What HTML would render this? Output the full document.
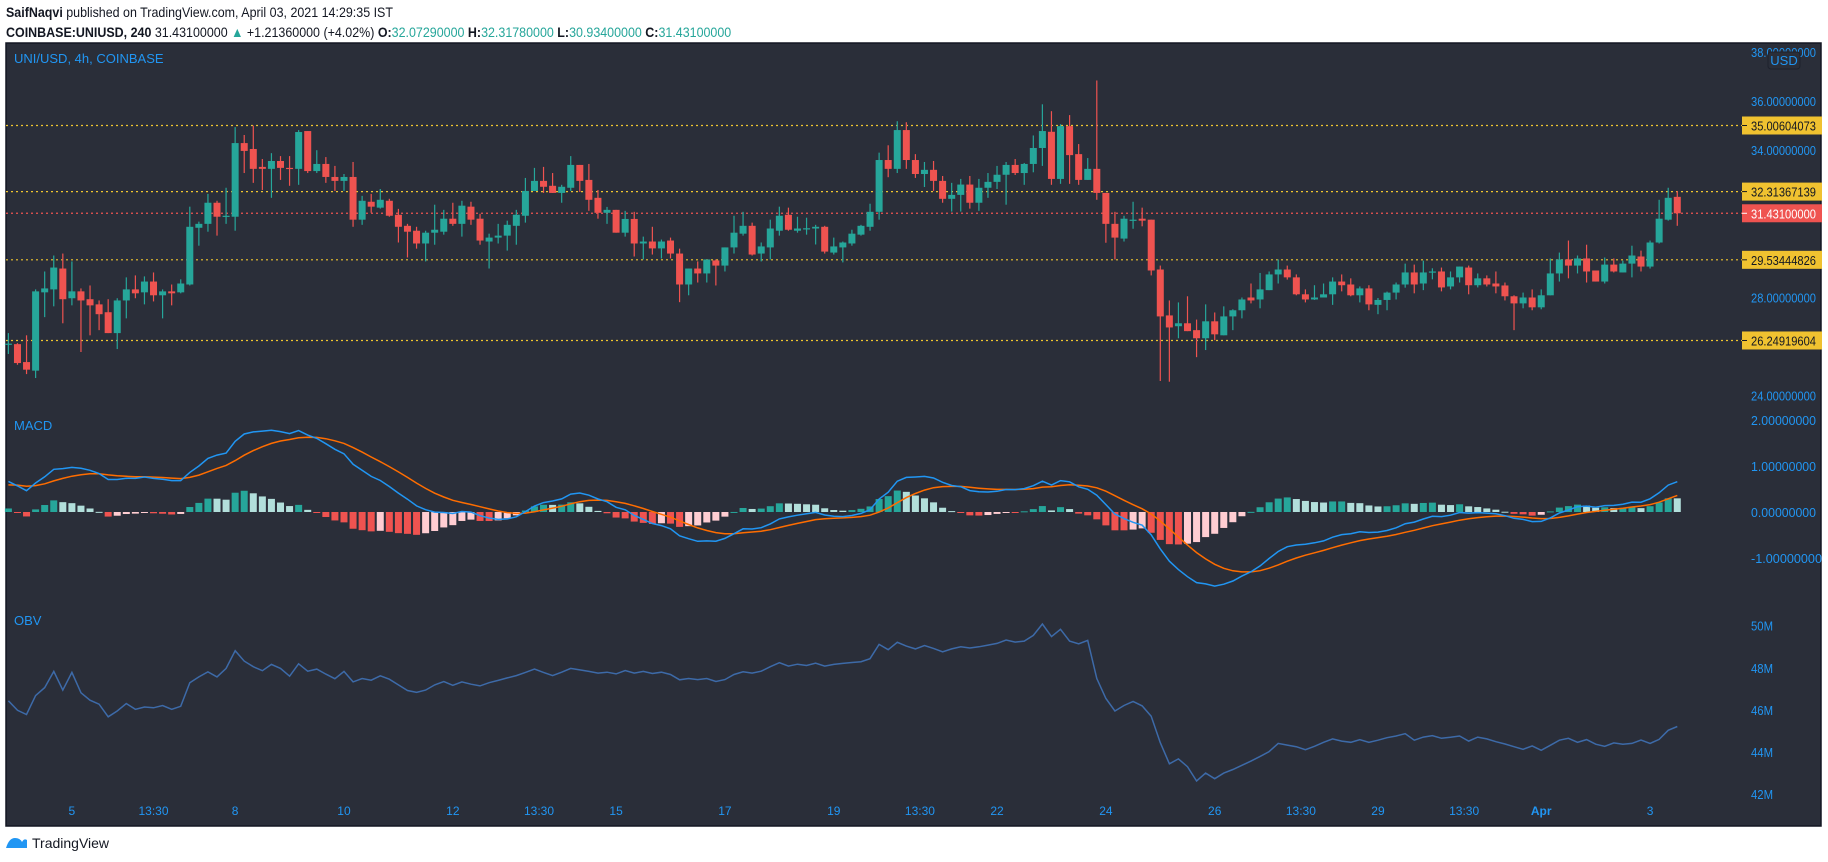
<!DOCTYPE html>
<html><head><meta charset="utf-8"><style>
html,body{margin:0;padding:0;background:#fff;width:1828px;height:862px;overflow:hidden;font-family:"Liberation Sans",sans-serif}
.hdr{position:absolute;left:6px;font-size:14px;color:#131722;white-space:nowrap;transform:scaleX(0.89);transform-origin:left top}
.hdr b{font-weight:bold}.tl{color:#26a69a}
#chart{position:absolute;left:0;top:0}
</style></head><body>
<div class="hdr" style="top:4px"><b>SaifNaqvi</b> published on TradingView.com, April 03, 2021 14:29:35 IST</div>
<div class="hdr" style="top:24px"><b>COINBASE:UNIUSD, 240</b> 31.43100000 <span class="tl">▲</span> +1.21360000 (+4.02%) <b>O:</b><span class="tl">32.07290000</span> <b>H:</b><span class="tl">32.31780000</span> <b>L:</b><span class="tl">30.93400000</span> <b>C:</b><span class="tl">31.43100000</span></div>
<svg id="chart" width="1828" height="862" xmlns="http://www.w3.org/2000/svg"></svg>
<script>
const opens=[26.10,26.10,25.37,25.02,28.21,28.33,29.18,27.97,28.25,27.93,27.72,27.4,26.55,27.88,28.33,28.21,28.65,28.09,28.25,28.21,28.53,30.84,31.0,31.86,31.29,31.29,34.29,34.05,33.32,33.24,33.56,33.28,33.24,34.78,33.15,33.44,32.91,32.75,32.91,31.17,31.9,31.66,31.94,31.37,30.92,30.72,30.2,30.64,30.68,31.21,31.0,31.7,31.21,30.28,30.44,30.52,30.92,31.33,32.34,32.75,32.55,32.26,32.47,33.4,32.79,32.06,
31.45,31.57,30.64,31.2,30.2,30.28,30.0,30.32,29.79,28.53,29.18,28.98,29.51,29.3,30.04,30.6,30.92,29.79,30.04,30.72,31.37,30.72,30.8,30.81,30.88,29.83,30.04,30.2,30.56,30.88,31.49,33.6,33.24,34.82,33.6,33.03,33.2,32.75,32.02,32.18,32.6,31.86,32.47,32.71,33.0,
33.4,33.07,33.44,34.09,34.75,32.83,34.98,33.84,32.79,33.24,32.26,31.0,30.4,31.13,31.21,31.17,29.14,27.27,26.83,26.95,26.67,26.34,27.03,26.46,27.23,27.48,28.0,27.92,28.3,28.94,29.14,28.82,28.13,27.92,28.0,28.13,28.65,28.53,28.09,28.37,27.7,27.9,28.2,28.53,29.02,
28.57,29.02,29.06,28.45,28.82,29.22,28.5,28.78,28.57,28.49,28.05,27.76,28.0,27.6,28.09,28.98,29.55,29.3,29.59,29.1,28.65,29.34,29.02,29.38,29.67,29.26,30.24,31.17,32.1];
const highs=[26.55,26.14,26.46,28.33,29.06,29.71,29.79,29.47,28.37,28.49,27.88,27.93,27.97,28.82,28.9,28.86,29.02,28.33,28.53,28.74,31.7,31.09,32.22,31.94,32.47,34.94,34.62,35.0,33.64,33.88,33.76,33.76,34.82,34.78,34.0,33.72,33.36,33.03,33.52,32.14,32.22,32.42,32.02,31.61,31.0,30.88,30.72,31.78,31.57,31.86,31.94,31.9,31.41,30.6,31.0,31.13,31.57,32.87,33.28,33.32,33.07,32.59,33.76,33.4,33.44,32.38,
31.69,31.57,31.53,31.49,30.48,30.88,30.36,30.44,29.99,29.18,29.47,29.55,29.55,30.04,31.33,31.49,31.05,30.24,31.17,31.7,31.66,31.29,31.25,30.96,30.92,30.44,30.28,30.76,30.96,31.82,33.9,34.2,35.18,35.14,33.84,33.52,33.56,32.95,32.67,32.83,32.95,32.83,33.07,33.36,33.52,
33.64,33.48,34.6,35.87,35.59,35.06,35.43,34.25,33.68,36.84,32.26,31.49,31.33,31.9,31.66,31.17,29.3,27.88,27.8,28.05,27.1,27.72,27.39,27.64,27.52,28.0,28.57,29.0,29.06,29.55,29.3,28.94,28.33,28.5,28.57,28.82,28.94,28.78,28.45,28.5,27.98,28.24,28.61,29.38,29.34,
29.5,29.19,29.22,29.06,29.26,29.3,28.98,28.9,29.06,28.61,28.09,28.2,28.33,28.33,29.59,29.83,30.32,29.71,30.15,29.1,29.63,29.59,29.5,30.11,29.91,30.32,31.98,32.47,32.34];
const lows=[25.70,25.26,24.88,24.72,27.2,27.64,26.95,27.68,25.78,26.46,26.67,26.55,25.9,27.15,27.97,27.72,27.84,27.15,27.68,28.17,28.49,30.11,30.68,30.52,31.0,30.72,33.07,32.67,32.38,32.06,32.79,32.55,32.59,33.07,33.07,32.67,32.34,32.34,30.88,30.96,31.45,31.62,31.29,30.24,29.63,29.99,29.47,30.15,30.56,30.92,30.48,30.96,30.15,29.18,30.2,29.91,30.15,31.05,32.34,32.26,32.26,31.86,32.34,32.3,31.53,31.21,
31.0,30.64,30.48,29.67,29.55,29.75,29.59,29.59,27.81,28.09,28.61,28.61,28.49,29.06,29.79,30.52,29.71,29.47,29.55,30.52,30.72,30.64,30.56,30.16,29.79,29.75,29.43,30.11,30.52,30.72,31.17,32.9,33.07,33.24,32.87,32.5,32.34,31.86,31.5,31.5,31.62,31.53,32.06,32.42,31.78,
32.99,32.59,33.1,33.36,32.59,32.63,32.63,32.59,32.79,31.98,30.23,29.55,30.28,30.8,30.9,28.9,24.6,24.57,26.34,26.63,25.57,25.86,26.26,26.46,26.67,27.15,27.76,27.56,28.3,28.57,28.73,28.09,27.8,27.9,28.0,27.7,28.25,28.05,27.8,27.48,27.32,27.48,27.92,28.4,28.17,
28.3,28.74,28.25,28.33,28.61,28.13,28.41,28.45,28.17,27.88,26.67,27.56,27.48,27.52,28.09,28.65,28.78,28.98,28.61,28.65,28.57,29.02,29.02,28.82,29.06,29.18,30.2,31.13,30.92];
const closes=[26.12,25.33,25.06,28.25,28.37,29.22,27.93,28.25,27.88,27.68,27.32,26.55,27.88,28.33,28.17,28.65,28.09,28.25,28.17,28.57,30.88,31.0,31.86,31.29,31.33,34.29,33.97,33.24,33.24,33.56,33.28,33.25,34.74,33.15,33.44,32.91,32.75,32.91,31.17,31.94,31.7,31.98,31.33,30.88,30.68,30.2,30.64,30.76,31.21,31.0,31.74,31.17,30.32,30.44,30.52,30.96,31.37,32.34,32.75,32.51,32.26,32.51,33.4,32.75,31.98,31.45,
31.57,30.64,31.2,30.2,30.28,30.0,30.28,29.79,28.53,29.18,28.98,29.55,29.3,30.04,30.64,30.92,29.75,30.08,30.81,31.33,30.76,30.81,30.82,30.88,29.87,30.08,30.24,30.6,30.92,31.49,33.6,33.24,34.82,33.6,33.03,33.2,32.75,32.02,32.18,32.6,31.86,32.47,32.71,33.0,33.4,
33.07,33.44,34.09,34.78,32.83,34.98,33.8,32.79,33.24,32.26,31.0,30.44,31.21,31.17,31.13,29.1,27.23,26.78,26.95,26.63,26.34,27.03,26.5,27.23,27.48,27.92,27.88,28.33,28.94,29.14,28.82,28.13,27.92,28.0,28.13,28.65,28.5,28.09,28.37,27.72,27.9,28.2,28.53,29.02,28.53,
29.02,29.06,28.41,28.82,29.26,28.5,28.78,28.53,28.45,28.05,27.76,28.0,27.6,28.09,28.98,29.55,29.3,29.59,29.06,28.65,29.34,29.06,29.38,29.71,29.26,30.24,31.21,32.06,31.43];
const obv=[46.43,45.98,45.78,46.68,47.06,47.83,46.94,47.78,46.81,46.46,46.27,45.67,45.95,46.30,46.03,46.14,46.10,46.21,46.03,46.17,47.29,47.57,47.81,47.57,47.97,48.81,48.32,48.05,47.86,48.16,47.97,47.60,48.19,47.84,47.94,47.70,47.48,47.83,47.33,47.49,47.41,47.62,47.46,47.19,46.92,46.83,46.94,47.19,47.35,47.17,47.33,47.22,47.14,47.29,47.40,47.52,47.63,47.78,47.94,47.78,47.63,47.79,47.97,47.90,47.83,47.75,47.79,47.71,47.87,47.75,47.83,47.73,47.79,47.68,47.43,47.49,47.44,47.49,47.35,47.44,47.68,47.81,47.75,47.84,48.05,48.24,48.08,48.17,48.11,48.22,48.08,48.16,48.21,48.25,48.29,48.43,49.11,48.86,49.21,
49.03,48.90,49.06,48.92,48.76,48.90,49.0,48.94,49.0,49.08,49.16,49.32,49.22,49.27,49.54,50.08,49.48,49.83,49.27,49.14,49.30,47.49,46.54,45.95,46.21,46.40,46.19,45.70,44.44,43.44,43.67,43.30,42.62,43.0,42.73,43.0,43.17,43.37,43.57,43.79,44.02,44.41,44.33,44.25,44.11,44.27,44.46,44.62,44.52,44.46,44.59,44.46,44.56,44.68,44.76,44.87,44.56,44.71,44.78,44.65,44.70,44.76,44.52,44.71,44.62,44.49,44.38,44.25,44.13,44.29,44.08,44.32,44.56,44.65,44.46,44.59,44.37,44.27,44.43,44.37,44.41,44.57,44.41,44.60,45.03,45.21];
const levelPrices=[35.00604073,32.31367139,29.53444826,26.24919604];
const levelLabels=["35.00604073","32.31367139","29.53444826","26.24919604"];
const lastPrice=31.431;
const lastLabel="31.43100000";
const priceTicks=[38,36,34,28,24];
const priceTickLabels=["38.00000000","36.00000000","34.00000000","28.00000000","24.00000000"];
const macdTicks=[2,1,0,-1];
const macdTickLabels=["2.00000000","1.00000000","0.00000000","-1.00000000"];
const obvTicks=[50,48,46,44,42];
const obvTickLabels=["50M","48M","46M","44M","42M"];
const dateIdx=[7,16,25,37,49,58.5,67,79,91,100.5,109,121,133,142.5,151,160.5,169,181];
const dateLabels=["5","13:30","8","10","12","13:30","15","17","19","13:30","22","24","26","13:30","29","13:30","Apr","3"];
const macdSeed=[25.9,25.2,0.57];

const svg=document.getElementById('chart');
const NS='http://www.w3.org/2000/svg';
function mk(t,a,parent){const e=document.createElementNS(NS,t);for(const k in a)e.setAttribute(k,a[k]);(parent||svg).appendChild(e);return e;}
const PL=6,PR=1742,TOP=43,BOT=826;
const xs=i=>8.4+9.07*i;
const yP=p=>52+(38-p)*24.55;
const yM=m=>512-m*46;
const yO=v=>625.7+(50-v)*21.05;

let r=mk('rect',{x:6,y:43,width:1815,height:783,fill:'#2a2e39',stroke:'#131722','stroke-width':1.5});



const AX='#2196f3';
function axisText(x,y,s,name,anchor,len){const t=mk('text',{x:x,y:y,fill:AX,'font-size':13,'text-anchor':anchor||'start'});if(len){t.setAttribute('textLength',len);t.setAttribute('lengthAdjust','spacingAndGlyphs');}t.textContent=s;return t;}
priceTicks.forEach((p,i)=>axisText(1751,yP(p)+5,priceTickLabels[i],'price-tick-label','start',65));
macdTicks.forEach((m,i)=>axisText(1751,yM(m)+5,macdTickLabels[i],'macd-tick-label','start',m<0?71:65));
obvTicks.forEach((v,i)=>axisText(1751,yO(v)+5,obvTickLabels[i],'obv-tick-label','start',22));
dateIdx.forEach((d,i)=>{const t=axisText(xs(d),815,dateLabels[i],'date-tick-label','middle');t.setAttribute('font-size',12);if(dateLabels[i]==='Apr')t.setAttribute('font-weight','bold');});

const usd=mk('rect',{x:1768,y:52,width:32,height:17,rx:3,fill:'#2a2e39',stroke:'#1e222d'});


axisText(1784,65,'USD','currency-label','middle');

const lbl=mk('text',{x:14,y:63,fill:AX,'font-size':13});lbl.textContent='UNI/USD, 4h, COINBASE';


const ml=mk('text',{x:14,y:430,fill:AX,'font-size':13});ml.textContent='MACD';


const ol=mk('text',{x:14,y:625,fill:AX,'font-size':13});ol.textContent='OBV';



// level lines
levelPrices.forEach((p,i)=>{const y=yP(p);
 const l=mk('line',{x1:PL,x2:PR,y1:y,y2:y,stroke:'#f0c52f','stroke-width':1.2,'stroke-dasharray':'2 3'});
 
 
});
const pl=mk('line',{x1:PL,x2:PR,y1:yP(lastPrice),y2:yP(lastPrice),stroke:'#ef5350','stroke-width':1.2,'stroke-dasharray':'2 3'});



// candles
const UP='#26a69a',DN='#ef5350';
closes.forEach((c,i)=>{const o=opens[i],x=xs(i),col=c>=o?UP:DN;
 const g=mk('g',{});
 
 
 mk('line',{x1:x,x2:x,y1:yP(highs[i]),y2:yP(lows[i]),stroke:col,'stroke-width':1.2},g);
 const yt=yP(Math.max(o,c)),yb=yP(Math.min(o,c));
 mk('rect',{x:x-3.5,y:yt,width:7,height:Math.max(1.2,yb-yt),fill:col},g);
});

// level labels
function box(y,txt,bg,fg,name){const g=mk('g',{});
 
 
 mk('rect',{x:1742,y:y-9,width:80,height:18,fill:bg},g);
 mk('line',{x1:1742,x2:1747,y1:y,y2:y,stroke:fg,'stroke-width':1},g);
 const t=mk('text',{x:1751,y:y+5,fill:fg,'font-size':13,textLength:65,lengthAdjust:'spacingAndGlyphs'},g);t.textContent=txt;}
levelPrices.forEach((p,i)=>box(yP(p),levelLabels[i],'#f0c230','#131722','level-price-label'));
box(yP(lastPrice),lastLabel,'#ef5350','#ffffff','last-price-label');

// MACD computed from closes
const a12=2/13,a26=2/27,a9=2/10;let e12=macdSeed[0],e26=macdSeed[1],sg=macdSeed[2];
const macd=[],sig=[],hist=[];
closes.forEach(c=>{e12=e12+a12*(c-e12);e26=e26+a26*(c-e26);const m=e12-e26;sg=sg+a9*(m-sg);macd.push(m);sig.push(sg);hist.push(m-sg);});
hist.forEach((h,i)=>{const prev=i>0?hist[i-1]:h;let col;
 if(h>=0)col=h>=prev?'#26a69a':'#b2dfdb';else col=h<prev?'#ef5350':'#ffcdd2';
 const y0=yM(0),y1=yM(h);
 const b=mk('rect',{x:xs(i)-3.5,y:Math.min(y0,y1),width:7,height:Math.max(1,Math.abs(y1-y0)),fill:col});
 
 
});
function poly(arr,yf,col,name,w){const p=mk('polyline',{points:arr.map((v,i)=>xs(i).toFixed(1)+','+yf(v).toFixed(1)).join(' '),fill:'none',stroke:col,'stroke-width':w||1.5});
 
 }
poly(sig,yM,'#ff6d00','macd-signal-line');
poly(macd,yM,'#2196f3','macd-line');
poly(obv,yO,'#3d6aa8','obv-line');

// footer logo
const lg=mk('g',{});


mk('path',{d:'M6 848 Q9 838 15 838 Q20 838 22 842 Q24 838 27 840 L27 848 Z',fill:'#2196f3'},lg);
const ft=mk('text',{x:32,y:848,fill:'#131722','font-size':14},lg);ft.textContent='TradingView';
</script>
</body></html>
